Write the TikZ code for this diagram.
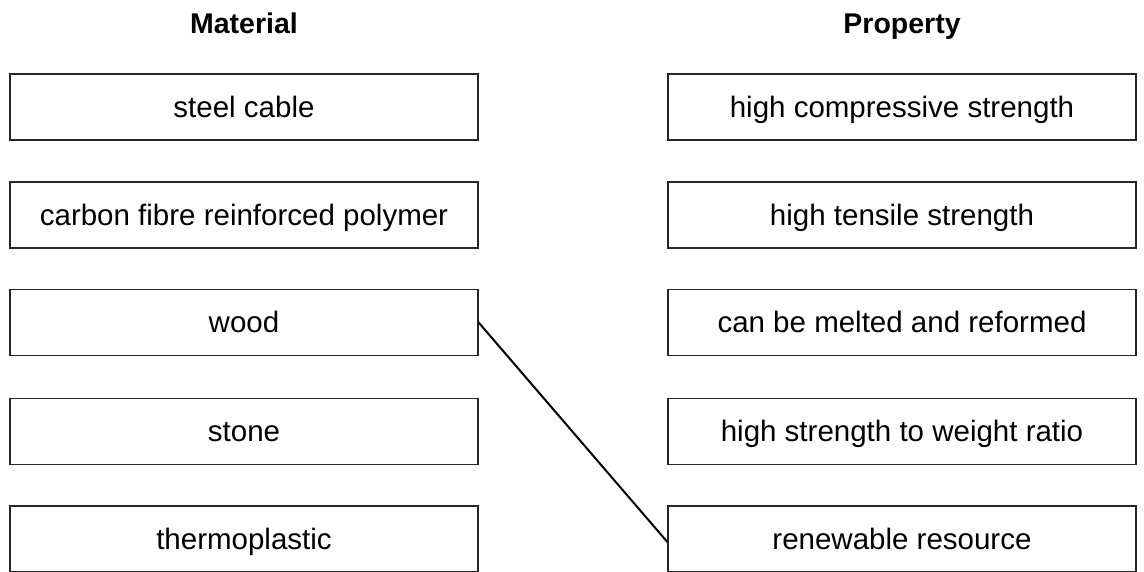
\documentclass[tikz,border=0pt]{standalone}
\usepackage{fontspec}
\setmainfont{Liberation Sans}
\begin{document}
\begin{tikzpicture}[x=1pt,y=-1pt,
  box/.style={draw=black!85,line width=1.3pt,minimum width=468pt,minimum height=66pt,inner sep=0pt,text height=26pt,text depth=6pt,font=\fontsize{29.5}{34}\selectfont},
  head/.style={font=\bfseries\fontsize{28.5}{34}\selectfont,anchor=base},
  link/.style={draw=black,line width=2pt}]
\useasboundingbox (0,0) rectangle (1144,571);
\node[head] (hm) at (244,33) {Material};
\node[head] (hp) at (902,33) {Property};
\node[box] (m1) at (244,107) {steel cable};
\node[box] (m2) at (244,215) {carbon fibre reinforced polymer};
\node[box] (m3) at (244,322.5) {wood};
\node[box] (m4) at (244,431.5) {stone};
\node[box] (m5) at (244,539) {thermoplastic};
\node[box] (p1) at (902,107) {high compressive strength};
\node[box] (p2) at (902,215) {high tensile strength};
\node[box] (p3) at (902,322.5) {can be melted and reformed};
\node[box] (p4) at (902,431.5) {high strength to weight ratio};
\node[box] (p5) at (902,539) {renewable resource};
\draw[link] (m3.east) -- ([yshift=-3pt]p5.west);
\end{tikzpicture}
\end{document}
